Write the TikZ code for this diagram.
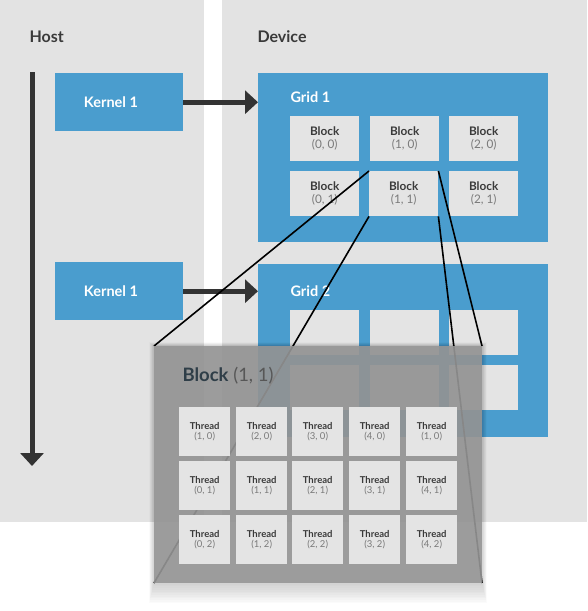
\documentclass[tikz,border=0pt]{standalone}
\usepackage{fontspec}
\setmainfont{Lato}
\usetikzlibrary{arrows.meta}
\definecolor{cublue}{HTML}{4A9DCE}
\definecolor{panel}{HTML}{E3E3E3}
\definecolor{cell}{HTML}{E4E4E4}
\definecolor{arr}{HTML}{333333}
\definecolor{txtdark}{HTML}{3A3A3A}
\definecolor{txtgray}{HTML}{7A7A7A}
\definecolor{slate}{HTML}{2F3E48}
\definecolor{ovgray}{HTML}{969696}
\tikzset{
  box/.style={rectangle, inner sep=0pt, anchor=north west},
  kbox/.style={box, fill=cublue, minimum width=128pt, minimum height=58pt},
  gbox/.style={box, fill=cublue, minimum width=290pt, minimum height=169pt},
  bbox/.style={box, fill=cell, minimum width=69pt, minimum height=45pt, align=center, font=\fontsize{11.8}{13.5}\selectfont},
  tbox/.style={box, fill=cell, minimum width=51pt, minimum height=49pt, align=center, font=\fontsize{9.5}{11}\selectfont},
  head/.style={anchor=west, text=txtdark, font=\bfseries\fontsize{16}{18}\selectfont},
  wlabel/.style={anchor=west, text=white, font=\bfseries\fontsize{14.5}{16}\selectfont},
  fat/.style={draw=arr, line width=5pt, -{Triangle[length=13pt,width=23pt]}},
  zoomline/.style={draw=black, line width=1.6pt},
}
\newcommand{\bl}[1]{{\bfseries\color{txtdark}Block}\\[-1pt]{\color{txtgray}#1}}
\newcommand{\thr}[1]{{\bfseries\color{txtdark}Thread}\\[-1pt]{\color{txtgray}#1}}
\begin{document}
\begin{tikzpicture}[x=1pt,y=-1pt]
\useasboundingbox (0,0) rectangle (587,611);
% panels
\fill[panel] (0,0) rectangle (204,522);
\fill[panel] (222,0) rectangle (587,522);
\node[head] (host) at (26,37) {Host};
\node[head] (dev) at (254,37) {Device};
% time arrow
\coordinate (t0) at (32,72);
\coordinate (t1) at (32,466);
\draw[fat] (t0) -- (t1);
% kernels
\node[kbox] (k1) at (55,73) {};
\node[kbox] (k2) at (55,262) {};
\node[wlabel, anchor=center] (k1t) at (111,102) {Kernel 1};
\node[wlabel, anchor=center] (k2t) at (111,291) {Kernel 1};
% grids
\node[gbox] (g1) at (258,73) {};
\node[gbox, minimum height=173pt] (g2) at (258,264) {};
\draw[fat] (k1.east) -- (g1.west |- k1.east);
\draw[fat] (k2.east) -- (g2.west |- k2.east);
\node[wlabel] (g1t) at (287,97) {Grid 1};
\node[wlabel] (g2t) at (287,291) {Grid 2};
% grid 1 blocks
\node[bbox] (b00) at (290,116) {\bl{(0, 0)}};
\node[bbox] (b10) at (370,116) {\bl{(1, 0)}};
\node[bbox] (b20) at (449,116) {\bl{(2, 0)}};
\node[bbox] (b01) at (290,171) {\bl{(0, 1)}};
\node[bbox] (b11) at (369,171) {\bl{(1, 1)}};
\node[bbox] (b21) at (449,171) {\bl{(2, 1)}};
% grid 2 blocks
\node[bbox] (c00) at (290,310) {};
\node[bbox] (c10) at (370,310) {};
\node[bbox] (c20) at (449,310) {};
\node[bbox] (c01) at (290,365) {};
\node[bbox] (c11) at (370,365) {};
\node[bbox] (c21) at (449,365) {};
% overlay corner coordinates
\coordinate (onw) at (154,346);
\coordinate (ose) at (482,583);
% zoom lines
\draw[zoomline] (b11.north west) -- (onw);
\draw[zoomline] (b11.south west) -- (onw |- ose);
\draw[zoomline] (b11.north east) -- (ose |- onw);
\draw[zoomline] (b11.south east) -- (ose);
% shadow
\foreach \i in {1,...,12}{
  \fill[black, opacity=0.016] (154-\i*0.4,346-\i*0.3) rectangle (482+\i*0.4,583+\i*1.7);
}
% overlay
\node[box, fill=ovgray, fill opacity=0.9, minimum width=328pt, minimum height=237pt] (ov) at (onw) {};
\node[anchor=west, font=\fontsize{18.5}{21}\selectfont] (ovt) at (179,376) {{\bfseries\color{slate}Block} {\color{txtdark!85}(1, 1)}};
% threads
\node[tbox] (t00) at (179,407) {\thr{(1, 0)}};
\node[tbox] (t10) at (236,407) {\thr{(2, 0)}};
\node[tbox] (t20) at (292,407) {\thr{(3, 0)}};
\node[tbox] (t30) at (349,407) {\thr{(4, 0)}};
\node[tbox] (t40) at (406,407) {\thr{(1, 0)}};
\node[tbox] (t01) at (179,461) {\thr{(0, 1)}};
\node[tbox] (t11) at (236,461) {\thr{(1, 1)}};
\node[tbox] (t21) at (292,461) {\thr{(2, 1)}};
\node[tbox] (t31) at (349,461) {\thr{(3, 1)}};
\node[tbox] (t41) at (406,461) {\thr{(4, 1)}};
\node[tbox] (t02) at (179,515) {\thr{(0, 2)}};
\node[tbox] (t12) at (236,515) {\thr{(1, 2)}};
\node[tbox] (t22) at (292,515) {\thr{(2, 2)}};
\node[tbox] (t32) at (349,515) {\thr{(3, 2)}};
\node[tbox] (t42) at (406,515) {\thr{(4, 2)}};
\end{tikzpicture}
\end{document}
